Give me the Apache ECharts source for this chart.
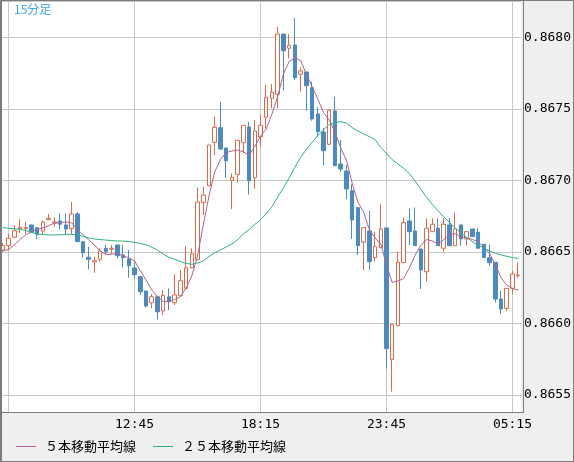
<!DOCTYPE html>
<html>
<head>
<meta charset="utf-8">
<script src="https://cdn.jsdelivr.net/npm/echarts@6/dist/echarts.min.js"></script>
<style>
html, body { margin: 0; padding: 0; background: #efefef; }
#chart { width: 574px; height: 462px; }
</style>
</head>
<body>
<div id="chart"></div>
<script>
// 15分足 07:00 - 05:30
const times = [
  '07:00','07:15','07:30','07:45','08:00','08:15','08:30','08:45','09:00','09:15','09:30','09:45',
  '10:00','10:15','10:30','10:45','11:00','11:15','11:30','11:45','12:00','12:15','12:30','12:45',
  '13:00','13:15','13:30','13:45','14:00','14:15','14:30','14:45','15:00','15:15','15:30','15:45',
  '16:00','16:15','16:30','16:45','17:00','17:15','17:30','17:45','18:00','18:15','18:30','18:45',
  '19:00','19:15','19:30','19:45','20:00','20:15','20:30','20:45','21:00','21:15','21:30','21:45',
  '22:00','22:15','22:30','22:45','23:00','23:15','23:30','23:45','00:00','00:15','00:30','00:45',
  '01:00','01:15','01:30','01:45','02:00','02:15','02:30','02:45','03:00','03:15','03:30','03:45',
  '04:00','04:15','04:30','04:45','05:00','05:15','05:30'
];

const opens = [
  0.866513,0.866543,0.866602,0.866662,0.866662,0.866688,0.866669,0.866646,0.866725,0.866702,
  0.866716,0.866688,0.866662,0.866765,0.866571,0.866462,0.866429,0.866448,0.866525,0.866518,
  0.866548,0.866478,0.866450,0.866387,0.866326,0.866226,0.866144,0.866186,0.866086,0.866186,
  0.866144,0.866193,0.866245,0.866389,0.866445,0.866846,0.866962,0.867266,0.867368,0.867226,
  0.867000,0.867042,0.867263,0.867373,0.867018,0.867305,0.867441,0.867574,0.867602,0.868023,
  0.867923,0.867946,0.867741,0.867758,0.867648,0.867464,0.867338,0.867252,0.867485,0.867114,
  0.867065,0.866927,0.866809,0.866567,0.866646,0.866459,0.866529,0.866667,0.865748,0.865983,
  0.866424,0.866716,0.866646,0.866520,0.866361,0.866641,0.866665,0.866525,0.866688,0.866543,
  0.866688,0.866590,0.866660,0.866637,0.866553,0.866459,0.866427,0.866170,0.866105,0.866245,
  0.866333
];
const closes = [
  0.866544,0.866595,0.866648,0.866672,0.866670,0.866637,0.866623,0.866707,0.866734,0.866709,
  0.866693,0.866660,0.866765,0.866571,0.866494,0.866448,0.866438,0.866506,0.866501,0.866525,
  0.866473,0.866459,0.866403,0.866340,0.866221,0.866121,0.866186,0.866081,0.866196,0.866151,
  0.866198,0.866298,0.866389,0.866485,0.866848,0.866897,0.867247,0.867371,0.867219,0.867137,
  0.867021,0.867280,0.867385,0.866997,0.867345,0.867385,0.867581,0.867616,0.868023,0.867906,
  0.867944,0.867718,0.867765,0.867662,0.867429,0.867340,0.867207,0.867490,0.867102,0.867079,
  0.866939,0.866723,0.866543,0.866669,0.866431,0.866536,0.866660,0.865823,0.865993,0.866427,
  0.866704,0.866641,0.866543,0.866373,0.866665,0.866693,0.866543,0.866693,0.866543,0.866660,
  0.866590,0.866641,0.866606,0.866525,0.866459,0.866424,0.866170,0.866100,0.866245,0.866345,
  0.866338
];
const lows = [
  0.866499,0.866513,0.866595,0.866630,0.866625,0.866635,0.866588,0.866618,0.866723,0.866676,
  0.866658,0.866623,0.866623,0.866569,0.866462,0.866378,0.866354,0.866431,0.866485,0.866485,
  0.866455,0.866392,0.866319,0.866315,0.866198,0.866109,0.866105,0.866028,0.866058,0.866093,
  0.866128,0.866186,0.866238,0.866385,0.866443,0.866758,0.866960,0.867177,0.867212,0.867018,
  0.866800,0.866983,0.867189,0.866900,0.866941,0.867235,0.867364,0.867504,0.867504,0.867627,
  0.867853,0.867702,0.867620,0.867487,0.867417,0.867305,0.867107,0.867247,0.867101,0.867058,
  0.866869,0.866590,0.866478,0.866373,0.866373,0.866431,0.866527,0.865683,0.865522,0.865981,
  0.866422,0.866548,0.866541,0.866240,0.866291,0.866639,0.866541,0.866501,0.866541,0.866541,
  0.866543,0.866543,0.866604,0.866520,0.866457,0.866401,0.866147,0.866063,0.866086,0.866203,
  0.866319
];
const highs = [
  0.866562,0.866625,0.866688,0.866727,0.866711,0.866690,0.866670,0.866718,0.866765,0.866741,
  0.866769,0.866769,0.866848,0.866779,0.866572,0.866536,0.866466,0.866525,0.866548,0.866548,
  0.866549,0.866548,0.866513,0.866420,0.866327,0.866227,0.866205,0.866187,0.866233,0.866245,
  0.866343,0.866373,0.866541,0.866525,0.866950,0.866955,0.867248,0.867445,0.867550,0.867227,
  0.867049,0.867282,0.867386,0.867408,0.867422,0.867457,0.867667,0.867674,0.868074,0.868024,
  0.868023,0.868137,0.867790,0.867759,0.867690,0.867511,0.867368,0.867491,0.867585,0.867282,
  0.867107,0.866972,0.866810,0.866670,0.866786,0.866641,0.866834,0.866668,0.865994,0.866501,
  0.866739,0.866800,0.866810,0.866521,0.866734,0.866734,0.866734,0.866734,0.866734,0.866776,
  0.866689,0.866642,0.866661,0.866665,0.866555,0.866548,0.866428,0.866226,0.866246,0.866366,
  0.866427
];
// ５本移動平均線
const ma5 = [
  0.866506,0.866516,0.866548,0.866586,0.866618,0.866641,0.866656,0.866668,0.866684,0.866700,
  0.866704,0.866709,0.866703,0.866660,0.866618,0.866583,0.866548,0.866504,0.866481,0.866483,
  0.866488,0.866473,0.866457,0.866436,0.866369,0.866303,0.866234,0.866188,0.866153,0.866151,
  0.866167,0.866186,0.866247,0.866331,0.866471,0.866688,0.866890,0.867058,0.867146,0.867195,
  0.867205,0.867212,0.867200,0.867174,0.867237,0.867310,0.867359,0.867464,0.867586,0.867744,
  0.867831,0.867855,0.867838,0.867744,0.867656,0.867569,0.867474,0.867422,0.867338,0.867226,
  0.867142,0.866981,0.866848,0.866779,0.866656,0.866597,0.866555,0.866408,0.866286,0.866296,
  0.866313,0.866387,0.866478,0.866544,0.866586,0.866576,0.866555,0.866586,0.866619,0.866628,
  0.866604,0.866598,0.866587,0.866569,0.866534,0.866488,0.866411,0.866320,0.866268,0.866244,
  0.866233
];
// ２５本移動平均線
const ma25 = [
  0.866670,0.866665,0.866661,0.866658,0.866649,0.866637,0.866623,0.866621,0.866618,0.866618,
  0.866619,0.866621,0.866623,0.866618,0.866609,0.866597,0.866590,0.866586,0.866582,0.866579,
  0.866576,0.866575,0.866572,0.866566,0.866558,0.866550,0.866532,0.866512,0.866485,0.866462,
  0.866448,0.866432,0.866419,0.866413,0.866422,0.866436,0.866467,0.866493,0.866513,0.866534,
  0.866555,0.866584,0.866625,0.866656,0.866692,0.866724,0.866767,0.866816,0.866883,0.866948,
  0.867016,0.867091,0.867161,0.867216,0.867266,0.867313,0.867353,0.867390,0.867404,0.867410,
  0.867401,0.867369,0.867345,0.867324,0.867306,0.867285,0.867230,0.867186,0.867144,0.867114,
  0.867084,0.867048,0.866995,0.866939,0.866880,0.866832,0.866787,0.866744,0.866706,0.866667,
  0.866632,0.866601,0.866571,0.866546,0.866526,0.866507,0.866490,0.866479,0.866469,0.866460,
  0.866453
];

const bullColor = '#dc6a48';
const bearColor = '#4a8bc4';
const ma5Color = '#b5618f';
const ma25Color = '#2db27a';
const monoFont = '"DejaVu Sans Mono", monospace';
const jpFont = '"Noto Sans CJK JP", sans-serif';

const candleData = opens.map((o, i) => [o, closes[i], lows[i], highs[i]]);

const myChart = echarts.init(document.getElementById('chart'));

const option = {
  backgroundColor: '#efefef',
  animation: false,
  title: {
    text: '15分足',
    left: 14,
    top: 3,
    padding: 0,
    textStyle: { fontSize: 12, fontWeight: 'normal', color: '#3aa8ec', fontFamily: jpFont }
  },
  legend: {
    left: 16,
    top: 440,
    padding: 0,
    icon: 'rect',
    itemWidth: 20,
    itemHeight: 1,
    itemGap: 17,
    textStyle: { fontSize: 13, color: '#000', fontFamily: jpFont, padding: [0, 0, 0, 4] },
    data: ['５本移動平均線', '２５本移動平均線']
  },
  grid: {
    left: -1.33,
    top: 1,
    width: 523.7,
    height: 411,
    show: true,
    backgroundColor: '#ffffff',
    borderWidth: 0
  },
  xAxis: {
    type: 'category',
    data: times,
    boundaryGap: true,
    axisLine: { show: false },
    axisTick: { show: false },
    axisLabel: {
      interval: (i) => i % 22 === 1 && i > 1,
      margin: 6,
      fontFamily: monoFont,
      fontSize: 13,
      color: '#000'
    },
    splitLine: {
      show: true,
      alignWithLabel: true,
      interval: (i) => i % 22 === 1,
      lineStyle: { color: '#c8c8c8', width: 1 }
    }
  },
  yAxis: {
    type: 'value',
    position: 'right',
    scale: true,
    min: 0.865380,
    max: 0.868254,
    minInterval: 0.0005,
    maxInterval: 0.0005,
    axisLine: { show: false },
    axisTick: { show: false },
    axisLabel: {
      showMinLabel: false,
      showMaxLabel: false,
      margin: 3,
      formatter: (v) => v.toFixed(4),
      fontFamily: monoFont,
      fontSize: 13,
      color: '#000'
    },
    splitLine: { lineStyle: { color: '#c8c8c8', width: 1 } }
  },
  graphic: [
    { type: 'rect', z: 100, silent: true, shape: { x: 0.5, y: 0.5, width: 573, height: 461 }, style: { fill: null, stroke: '#7c7c7c', lineWidth: 1 } },
    { type: 'line', z: 100, silent: true, shape: { x1: 1.5, y1: 0, x2: 1.5, y2: 462 }, style: { stroke: '#7c7c7c', lineWidth: 1 } },
    { type: 'line', z: 100, silent: true, shape: { x1: 523.5, y1: 0, x2: 523.5, y2: 413 }, style: { stroke: '#7c7c7c', lineWidth: 1 } },
    { type: 'line', z: 100, silent: true, shape: { x1: 0, y1: 412.5, x2: 524, y2: 412.5 }, style: { stroke: '#7c7c7c', lineWidth: 1 } }
  ],
  series: [
    {
      type: 'candlestick',
      name: 'rate',
      data: candleData,
      barWidth: 4,
      silent: true,
      itemStyle: {
        color: '#ffffff',
        color0: bearColor,
        borderColor: bullColor,
        borderColor0: bearColor,
        borderWidth: 1
      }
    },
    {
      type: 'line',
      name: '５本移動平均線',
      data: ma5,
      symbol: 'none',
      silent: true,
      itemStyle: { color: ma5Color },
      lineStyle: { color: ma5Color, width: 1 }
    },
    {
      type: 'line',
      name: '２５本移動平均線',
      data: ma25,
      symbol: 'none',
      silent: true,
      itemStyle: { color: ma25Color },
      lineStyle: { color: ma25Color, width: 1 }
    }
  ]
};

option && myChart.setOption(option);
</script>
</body>
</html>
